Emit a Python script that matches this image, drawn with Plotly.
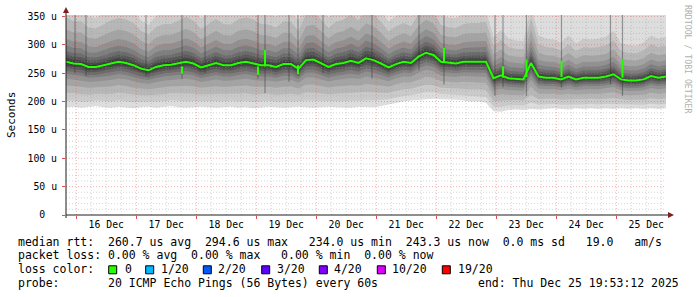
import numpy as np
import pandas as pd
import plotly.graph_objects as go

# ---------------- data ----------------
start = pd.Timestamp("2025-12-15 19:53:12")
end = pd.Timestamp("2025-12-25 19:53:12")
step_hours = 3

# median rtt (microseconds), one reading every 3 hours from start
median_us = [270, 267, 266, 261, 261, 264, 267, 270, 268, 264,
             258, 255, 261, 264, 265, 267, 270, 267, 260, 264,
             268, 264, 264, 268, 270, 267, 264, 264, 261, 266,
             266, 258, 273, 274, 268, 261, 266, 268, 272, 268,
             276, 273, 267, 260, 266, 270, 268, 279, 286, 282,
             270, 268, 267, 270, 270, 270, 270, 241, 246, 241,
             240, 239, 268, 244, 242, 242, 239, 244, 239, 242,
             242, 242, 244, 248, 239, 237, 237, 239, 245, 242, 244]

# lowest ping (microseconds), same sampling
low_us = [190, 191, 189, 190, 192, 190, 189, 191, 190, 188,
          190, 191, 189, 190, 192, 190, 189, 190, 191, 190,
          189, 190, 191, 189, 190, 188, 190, 191, 190, 189,
          190, 191, 190, 189, 190, 191, 190, 190, 189, 191,
          190, 190, 192, 195, 198, 200, 202, 203, 205, 205,
          204, 204, 203, 202, 200, 200, 198, 183, 182, 185,
          186, 185, 187, 186, 187, 188, 187, 186, 188, 187,
          188, 187, 188, 187, 188, 187, 188, 187, 188, 187, 188]

# sorted-ping profile: position of ranks 1..10 between low and median,
# and ranks 11..20 above median, as fraction of (median - low)
rank_frac_low = [0.00, 0.14, 0.31, 0.48, 0.63, 0.73, 0.80, 0.87, 0.92, 0.97]
rank_frac_high = [0.04, 0.09, 0.16, 0.24, 0.36, 0.51, 0.72, 0.98, 1.25, 2.40]
smoke_grey = [221, 202, 183, 164, 145, 126, 107, 88, 69, 50]

# short median excursions
spike_times = ["2025-12-17 18:17", "2025-12-19 00:41", "2025-12-19 03:29",
               "2025-12-19 16:41", "2025-12-22 03:05", "2025-12-23 02:41",
               "2025-12-23 12:05", "2025-12-24 02:05", "2025-12-25 02:29"]
spike_base = [262, 262, 262, 264, 268, 242, 243, 243, 242]
spike_peak = [249, 247, 291, 248, 294.6, 262, 274, 272, 275]

# dark smoke columns (wide spread of pings)
col_times = ["2025-12-15 23:29", "2025-12-16 03:53", "2025-12-17 03:53",
             "2025-12-17 18:17", "2025-12-18 03:29", "2025-12-19 00:41",
             "2025-12-19 03:29", "2025-12-19 13:05", "2025-12-19 16:41",
             "2025-12-20 02:41", "2025-12-20 22:17", "2025-12-21 17:05",
             "2025-12-22 03:05", "2025-12-22 23:29", "2025-12-23 02:41",
             "2025-12-23 12:05", "2025-12-24 02:05", "2025-12-24 21:41",
             "2025-12-25 02:29"]
col_top = [360] * len(col_times)
col_bottom = [250, 245, 245, 240, 250, 240, 215, 235, 245,
              250, 240, 255, 230, 210, 225, 210, 225, 230, 210]

day_labels = ["16 Dec", "17 Dec", "18 Dec", "19 Dec", "20 Dec",
              "21 Dec", "22 Dec", "23 Dec", "24 Dec", "25 Dec"]
y_ticks = [0, 50, 100, 150, 200, 250, 300, 350]
y_tick_text = ["0\u00a0\u00a0", "50 u", "100 u", "150 u", "200 u",
               "250 u", "300 u", "350 u"]

loss_labels = ["0", "1/20", "2/20", "3/20", "4/20", "10/20", "19/20"]
loss_colors = ["#26ff00", "#00b8ff", "#0059ff", "#5e00ff", "#7e00ff",
               "#dd00ff", "#ff0000"]

legend_rtt = "median rtt:  260.7 us avg  294.6 us max   234.0 us min  243.3 us now  0.0 ms sd   19.0   am/s"
legend_loss = "packet loss: 0.00 % avg  0.00 % max   0.00 % min  0.00 % now"
legend_probe = "probe:       20 ICMP Echo Pings (56 Bytes) every 60s"
legend_end = "end: Thu Dec 25 19:53:12 2025"

# ---------------- figure ----------------
W, H = 697, 297
L, R, T, B = 66, 666, 15, 215
YMAX = 352.5
MONO = "DejaVu Sans Mono"


def px(x):
    return (x - L) / (R - L)


def py(y):
    return (B - y) / (B - T)


def nb(s):
    return s.replace(" ", "\u00a0")


times = [start + pd.Timedelta(hours=step_hours * k) for k in range(len(median_us))]
med = np.array(median_us, dtype=float)
low = np.array(low_us, dtype=float)
spread = med - low

fig = go.Figure()

# smoke bands
for i in range(10):
    lo = low + rank_frac_low[i] * spread
    hi = med + rank_frac_high[9 - i] * spread
    c = smoke_grey[i]
    fig.add_trace(go.Scatter(x=times, y=lo, mode="lines", line=dict(width=0),
                             showlegend=False, hoverinfo="skip"))
    fig.add_trace(go.Scatter(x=times, y=hi, mode="lines", line=dict(width=0),
                             fill="tonexty", fillcolor=f"rgb({c},{c},{c})",
                             showlegend=False, hoverinfo="skip"))

# dark smoke columns
cx, cy = [], []
for t, top, bot in zip(col_times, col_top, col_bottom):
    cx += [pd.Timestamp(t), pd.Timestamp(t), None]
    cy += [bot, top, None]
fig.add_trace(go.Scatter(x=cx, y=cy, mode="lines",
                         line=dict(color="rgba(50,50,50,0.45)", width=1.2),
                         showlegend=False, hoverinfo="skip"))

# grid
days = pd.date_range("2025-12-16", "2025-12-25", freq="D")
six = [t for t in pd.date_range("2025-12-15 00:00", "2025-12-26 00:00", freq="6h")
       if start < t < end and t.hour != 0]
gx, gy = [], []
for t in six:
    gx += [t, t, None]
    gy += [0, YMAX, None]
for v in range(10, 351, 10):
    if v % 50:
        gx += [start, end, None]
        gy += [v, v, None]
fig.add_trace(go.Scatter(x=gx, y=gy, mode="lines",
                         line=dict(color="rgba(150,150,150,0.4)", width=1, dash="1px,2px"),
                         showlegend=False, hoverinfo="skip"))
mx, my = [], []
for t in days:
    mx += [t, t, None]
    my += [0, YMAX, None]
for v in range(50, 351, 50):
    mx += [start, end, None]
    my += [v, v, None]
fig.add_trace(go.Scatter(x=mx, y=my, mode="lines",
                         line=dict(color="rgba(222,79,79,0.45)", width=1, dash="1px,2px"),
                         showlegend=False, hoverinfo="skip"))

# median line
fig.add_trace(go.Scatter(x=times, y=median_us, mode="lines",
                         line=dict(color="#26ff00", width=2),
                         showlegend=False, hoverinfo="skip"))
sx, sy = [], []
for t, b0, p0 in zip(spike_times, spike_base, spike_peak):
    sx += [pd.Timestamp(t), pd.Timestamp(t), None]
    sy += [b0, p0, None]
fig.add_trace(go.Scatter(x=sx, y=sy, mode="lines",
                         line=dict(color="#26ff00", width=2),
                         showlegend=False, hoverinfo="skip"))

noons = [d + pd.Timedelta(hours=12) for d in days]

fig.update_layout(
    width=W, height=H, autosize=False,
    margin=dict(l=L, r=W - R, t=T, b=H - B, pad=0),
    paper_bgcolor="white", plot_bgcolor="white",
    showlegend=False,
    font=dict(family=MONO, color="black", size=10),
    xaxis=dict(
        range=[start, end], type="date",
        tickmode="array", tickvals=noons, ticktext=day_labels,
        ticks="", showgrid=False, zeroline=False, showline=False,
        tickfont=dict(family=MONO, size=9.8, color="black"),
        ticklabelstandoff=2,
        minor=dict(tickmode="linear", tick0="2025-12-16", dtick=86400000,
                   ticks="outside", ticklen=3, tickcolor="#de4f4f",
                   showgrid=False),
    ),
    yaxis=dict(
        range=[0, YMAX], tickmode="array", tickvals=y_ticks, ticktext=y_tick_text,
        ticks="outside", ticklen=3, tickcolor="#de4f4f",
        showgrid=False, zeroline=False, showline=False,
        tickfont=dict(family=MONO, size=9.8, color="black"),
        ticklabelstandoff=3,
    ),
)

# axes with arrows
axis_col = "#1f1f1f"
arrow_col = "#801f1f"
shapes = [
    dict(type="line", xref="paper", yref="paper", x0=px(L), x1=px(669),
         y0=py(B), y1=py(B), line=dict(color=axis_col, width=1)),
    dict(type="line", xref="paper", yref="paper", x0=px(L), x1=px(L),
         y0=py(B + 3), y1=py(12), line=dict(color=axis_col, width=1)),
    dict(type="path", xref="paper", yref="paper",
         path=f"M {px(668)} {py(B-3)} L {px(674)} {py(B)} L {px(668)} {py(B+3)} Z",
         fillcolor=arrow_col, line=dict(color=arrow_col, width=0)),
    dict(type="path", xref="paper", yref="paper",
         path=f"M {px(L-3)} {py(13)} L {px(L)} {py(7)} L {px(L+3)} {py(13)} Z",
         fillcolor=arrow_col, line=dict(color=arrow_col, width=0)),
]

annotations = [
    dict(text="Seconds", textangle=-90, xref="paper", yref="paper",
         x=px(11), y=py(115), showarrow=False, xanchor="center", yanchor="middle",
         font=dict(family=MONO, size=11, color="black")),
    dict(text=nb("RRDTOOL / TOBI OETIKER"), textangle=90, xref="paper", yref="paper",
         x=px(688), y=py(59), showarrow=False, xanchor="center", yanchor="middle",
         font=dict(family=MONO, size=8.2, color="#b0b0b0")),
]

LEG_X = 16
leg_font = dict(family=MONO, size=11.5, color="black")
for txt, yy in [(legend_rtt, 241.7), (legend_loss, 255.0), ("loss color:", 269.3),
                (legend_probe, 282.7)]:
    annotations.append(dict(text=nb(txt), xref="paper", yref="paper",
                            x=px(LEG_X), y=py(yy), showarrow=False,
                            xanchor="left", yanchor="middle", font=leg_font))
annotations.append(dict(text=nb(legend_end), xref="paper", yref="paper",
                        x=px(681), y=py(282.7), showarrow=False,
                        xanchor="right", yanchor="middle", font=leg_font))

box_x = [108.7, 145.7, 203.3, 261.7, 319.3, 377.3, 442.3]
lab_x = [123.0, 159.0, 216.3, 275.0, 332.3, 389.7, 455.7]
for bx, lx, lab, col in zip(box_x, lab_x, loss_labels, loss_colors):
    shapes.append(dict(type="rect", xref="paper", yref="paper",
                       x0=px(bx), x1=px(bx + 8), y0=py(265.8), y1=py(273.8),
                       fillcolor=col, line=dict(color="black", width=1)))
    annotations.append(dict(text=lab, xref="paper", yref="paper",
                            x=px(lx), y=py(269.3), showarrow=False,
                            xanchor="left", yanchor="middle", font=leg_font))

fig.update_layout(shapes=shapes, annotations=annotations)
fig.write_html("out.html")
